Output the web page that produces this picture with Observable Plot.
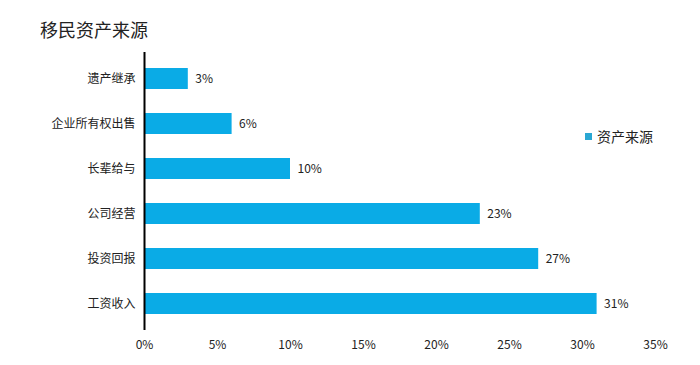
<!DOCTYPE html>
<html>
<head>
<meta charset="utf-8">
<script src="https://cdn.jsdelivr.net/npm/d3@7"></script>
<script src="https://cdn.jsdelivr.net/npm/@observablehq/plot@0.6"></script>
<style>
  body { margin: 0; background: #fff; font-family: "Noto Sans CJK SC", "Noto Sans", sans-serif; }
  #wrap { position: relative; width: 700px; height: 365px; }
  #title { position: absolute; left: 40px; top: 17px; font-size: 18px; color: #222; line-height: 24px; }
  #legend { position: absolute; left: 585px; top: 127px; font-size: 14px; color: #222; line-height: 18px; display: flex; align-items: center; }
  #legend span.sw { display: inline-block; width: 7px; height: 7px; background: #2aa7d3; margin-right: 5px; }
</style>
</head>
<body>
<div id="wrap">
  <div id="chart"></div>
  <div id="title">移民资产来源</div>
  <div id="legend"><span class="sw"></span><span>资产来源</span></div>
</div>
<script>
const categories = ["遗产继承", "企业所有权出售", "长辈给与", "公司经营", "投资回报", "工资收入"];
const values = [0.03, 0.06, 0.10, 0.23, 0.27, 0.31];
const xTicks = [0, 0.05, 0.10, 0.15, 0.20, 0.25, 0.30, 0.35];
const seriesName = "资产来源";

const data = categories.map((c, i) => ({category: c, value: values[i]}));
const pct = d3.format(".0%");

const chart = Plot.plot({
  width: 700,
  height: 365,
  marginLeft: 144,
  marginRight: 45,
  marginTop: 52,
  marginBottom: 35,
  style: {fontFamily: "'Noto Sans CJK SC', sans-serif", fontSize: "12px", color: "#222", background: "#fff"},
  x: {domain: [0, 0.35], ticks: xTicks, tickFormat: pct, label: null},
  y: {domain: categories, label: null, paddingInner: 0.54, paddingOuter: 0.32},
  marks: [
    Plot.barX(data, {x: "value", y: "category", fill: "#0aabe6"}),
    Plot.text(data, {x: "value", y: "category", text: d => pct(d.value), textAnchor: "start", dx: 7, fill: "#222", fontSize: 12}),
    Plot.ruleX([0], {stroke: "#000", strokeWidth: 2}),
    Plot.axisX({ticks: xTicks, tickFormat: pct, tickSize: 0, tickPadding: 10, label: null, fontSize: 12}),
    Plot.axisY({tickSize: 0, tickPadding: 9, label: null, fontSize: 12})
  ]
});
document.getElementById("chart").appendChild(chart);
</script>
</body>
</html>
